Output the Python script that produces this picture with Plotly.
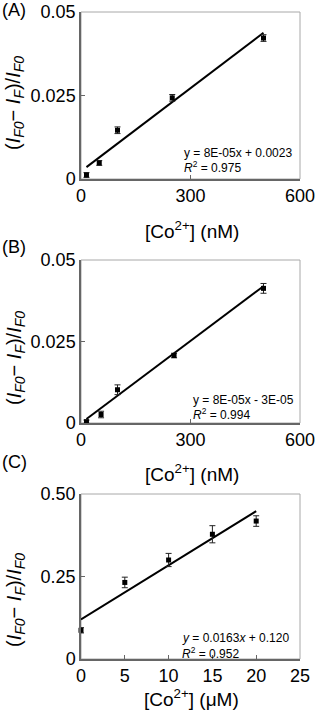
import plotly.graph_objects as go

W, H = 316, 717

# ---- data ----
a_x = [15, 50, 100, 250, 500]
a_y = [0.0012, 0.0048, 0.0146, 0.0243, 0.0422]
a_err = [0.0007, 0.0007, 0.0010, 0.0010, 0.0010]
a_fit = (8.3e-05, 0.0023)
a_fit_x = [15, 500]

b_x = [15, 55, 100, 255, 500]
b_y = [0.0004, 0.0026, 0.0102, 0.0207, 0.0413]
b_err = [0.0005, 0.0010, 0.0015, 0.0007, 0.0015]
b_fit = (8.4e-05, -3e-05)
b_fit_x = [15, 500]

c_x = [0, 5, 10, 15, 20]
c_y = [0.087, 0.232, 0.300, 0.378, 0.418]
c_err = [0.008, 0.016, 0.020, 0.026, 0.016]
c_fit = (0.0164, 0.120)
c_fit_x = [0, 20]

a_xticks = [0, 300, 600]
a_yticks = [0, 0.025, 0.05]
a_yticktext = ["0", "0.025", "0.05"]
c_xticks = [0, 5, 10, 15, 20, 25]
c_yticks = [0, 0.25, 0.5]
c_yticktext = ["0", "0.25", "0.50"]

FONT = "Liberation Sans, Arial, sans-serif"

def px(x):
    return x / W

def py(y):
    return 1 - y / H

panels = [
    dict(box=(81, 300, 12, 179), x=a_x, y=a_y, e=a_err, fit=a_fit, fx=a_fit_x,
         xr=[0, 600], yr=[0, 0.05], xt=a_xticks, yt=a_yticks, ytt=a_yticktext,
         label="(A)", label_y=10, xtitle="[Co<sup>2+</sup>] (nM)", xtitle_y=230, ytitle_y=103,
         eq=["y = 8E-05x + 0.0023", "<i>R</i><sup>2</sup> = 0.975"], eq_x=182, eq_y=[153, 167]),
    dict(box=(81, 300, 260, 423), x=b_x, y=b_y, e=b_err, fit=b_fit, fx=b_fit_x,
         xr=[0, 600], yr=[0, 0.05], xt=a_xticks, yt=a_yticks, ytt=a_yticktext,
         label="(B)", label_y=247, xtitle="[Co<sup>2+</sup>] (nM)", xtitle_y=473, ytitle_y=358,
         eq=["y = 8E-05x - 3E-05", "<i>R</i><sup>2</sup> = 0.994"], eq_x=191, eq_y=[400, 414]),
    dict(box=(81, 300, 494, 659), x=c_x, y=c_y, e=c_err, fit=c_fit, fx=c_fit_x,
         xr=[0, 25], yr=[0, 0.5], xt=c_xticks, yt=c_yticks, ytt=c_yticktext,
         label="(C)", label_y=462, xtitle="[Co<sup>2+</sup>] (μM)", xtitle_y=698, ytitle_y=600,
         eq=["<i>y</i> = 0.0163<i>x</i> + 0.120", "<i>R</i><sup>2</sup> = 0.952"], eq_x=180, eq_y=[638, 653]),
]

fig = go.Figure()
layout = dict(width=W, height=H, margin=dict(l=0, r=0, t=0, b=0),
              paper_bgcolor="white", plot_bgcolor="white", showlegend=False,
              font=dict(family=FONT, color="black"))
annotations = []
shapes = []
ytitle = "(<i>I</i><sub><i>F0</i></sub>− <i>I</i><sub><i>F</i></sub>)/<i>I</i><sub><i>F0</i></sub>"

for i, p in enumerate(panels):
    n = "" if i == 0 else str(i + 1)
    xa, ya = "x" + n, "y" + n
    x0, x1, y0, y1 = p["box"]
    slope, icpt = p["fit"]
    fy = [slope * v + icpt for v in p["fx"]]
    fig.add_trace(go.Scatter(x=p["fx"], y=fy, mode="lines",
                             line=dict(color="black", width=2), xaxis=xa, yaxis=ya,
                             hoverinfo="skip"))
    fig.add_trace(go.Scatter(x=p["x"], y=p["y"], mode="markers",
                             marker=dict(symbol="square", size=5, color="black"),
                             error_y=dict(type="data", array=p["e"], color="#222",
                                          thickness=1, width=3),
                             xaxis=xa, yaxis=ya, cliponaxis=False))
    common = dict(showgrid=False, zeroline=False, showline=True, linecolor="#666",
                  linewidth=1.5, ticks="inside", ticklen=4, tickcolor="#666",
                  tickfont=dict(size=18, family=FONT, color="black"), fixedrange=True,
                  automargin=False)
    layout["xaxis" + n] = dict(common, domain=[px(x0), px(x1)], range=p["xr"],
                               tickvals=p["xt"], anchor=ya, ticklabelstandoff=0)
    layout["yaxis" + n] = dict(common, domain=[py(y1), py(y0)], range=p["yr"],
                               tickvals=p["yt"], ticktext=p["ytt"], anchor=xa,
                               ticklabelstandoff=0)
    shapes.append(dict(type="rect", xref="paper", yref="paper",
                       x0=px(x0), x1=px(x1), y0=py(y0), y1=py(y1),
                       line=dict(color="#a8a8a8", width=1), layer="below"))
    annotations.append(dict(text=p["label"], x=0, y=py(p["label_y"]), xref="paper", yref="paper",
                            xanchor="left", yanchor="middle", showarrow=False,
                            font=dict(size=18, family=FONT)))
    annotations.append(dict(text=p["xtitle"], x=px((x0 + x1) / 2 + 1), y=py(p["xtitle_y"]),
                            xref="paper", yref="paper", xanchor="center", yanchor="middle",
                            showarrow=False, font=dict(size=19, family=FONT)))
    annotations.append(dict(text=ytitle, x=px(15), y=py(p["ytitle_y"]), xref="paper", yref="paper",
                            xanchor="center", yanchor="middle", textangle=-90, showarrow=False,
                            font=dict(size=20, family=FONT)))
    for t, ty in zip(p["eq"], p["eq_y"]):
        annotations.append(dict(text=t, x=px(p["eq_x"]), y=py(ty), xref="paper", yref="paper",
                                xanchor="left", yanchor="middle", showarrow=False,
                                font=dict(size=12, family=FONT)))

layout["annotations"] = annotations
layout["shapes"] = shapes
fig.update_layout(**layout)
fig.write_html("out.html", config={"displayModeBar": False},
               post_script="document.body.style.margin='0';document.body.style.padding='0';"
                           "document.documentElement.style.overflow='hidden';")
